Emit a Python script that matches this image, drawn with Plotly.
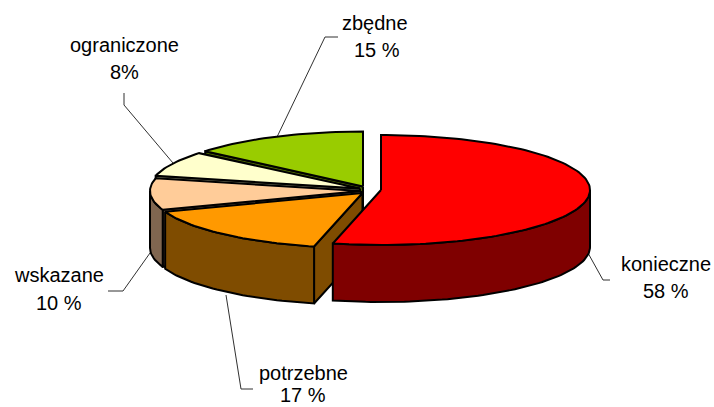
import math
import plotly.graph_objects as go

# data
categories = ["konieczne", "potrzebne", "wskazane", "ograniczone", "zbędne"]
values = [58, 17, 10, 8, 15]
value_labels = ["58 %", "17 %", "10 %", "8%", "15 %"]

# colours
top_colors = ["#FF0000", "#FF9900", "#FFCC99", "#FFFFCC", "#99CC00"]
side_colors = ["#7F0000", "#7F4C00", "#806650", "#808066", "#4C6600"]

# pie layout (pixel-based axes)
W, H = 714, 407
apex = [(381, 190), (362.5, 193), (361, 191), (360, 188.5), (363, 186.5)]
radius_x = [209, 210, 211, 210, 206]
RY = 55
DEPTH = 57
name_pos = [(666, 264), (303, 373), (59, 275), (124, 45), (375, 23)]
value_pos = [(666, 291), (303, 395), (59, 303), (124, 72), (377, 50)]
leaders = [
    [(610, 280), (603, 280), (588, 253)],
    [(253, 389), (241, 389), (226, 295)],
    [(108, 291), (123, 291), (150, 253)],
    [(124, 93), (124, 105), (173, 163)],
    [(338, 37), (325, 37), (277, 137)],
]

total = sum(values)
spans = []
angle = 0.0
for v in values:
    spans.append((angle, angle + 360.0 * v / total))
    angle += 360.0 * v / total


def point(i, deg, drop=0):
    a = math.radians(deg)
    cx, cy = apex[i]
    return cx + radius_x[i] * math.sin(a), cy - RY * math.cos(a) + drop


def arc(i, start, end, drop=0):
    n = max(2, int(abs(end - start) / 1.5))
    return [point(i, start + (end - start) * k / n, drop) for k in range(n + 1)]


fig = go.Figure()


def polygon(pts, fill, width=2.0):
    xs = [p[0] for p in pts] + [pts[0][0]]
    ys = [p[1] for p in pts] + [pts[0][1]]
    fig.add_trace(go.Scatter(
        x=xs, y=ys, mode="lines", fill="toself", fillcolor=fill,
        line=dict(color="#000000", width=width), hoverinfo="skip", showlegend=False,
    ))


for pts in leaders:
    fig.add_trace(go.Scatter(
        x=[p[0] for p in pts], y=[p[1] for p in pts], mode="lines",
        line=dict(color="#303030", width=1), hoverinfo="skip", showlegend=False,
    ))

# paint back to front
for i in [4, 3, 2, 1, 0]:
    start, end = spans[i]
    cx, cy = apex[i]
    # radial wall on the leading edge
    if 180 < start < 360:
        s = point(i, start)
        polygon([(cx, cy), s, (s[0], s[1] + DEPTH), (cx, cy + DEPTH)], side_colors[i])
    # outer wall, only where it faces the viewer
    lo, hi = max(start, 90), min(end, 270)
    if lo < hi:
        polygon(arc(i, lo, hi) + arc(i, hi, lo, DEPTH), side_colors[i])
    # top face
    polygon([(cx, cy)] + arc(i, start, end), top_colors[i])

font = dict(family="Liberation Sans, Arial, sans-serif", size=20, color="#000000")
for i in range(len(categories)):
    for text, (x, y) in ((categories[i], name_pos[i]), (value_labels[i], value_pos[i])):
        fig.add_annotation(x=x, y=y, text=text, showarrow=False, font=font,
                           xanchor="center", yanchor="middle")

fig.update_layout(
    width=W, height=H, margin=dict(l=0, r=0, t=0, b=0),
    paper_bgcolor="#FFFFFF", plot_bgcolor="#FFFFFF", showlegend=False,
    xaxis=dict(range=[0, W], visible=False, fixedrange=True),
    yaxis=dict(range=[H, 0], visible=False, fixedrange=True),
)
fig.write_html("out.html", config={"displayModeBar": False},
               post_script="document.body.style.margin='0';document.body.style.overflow='hidden';")
